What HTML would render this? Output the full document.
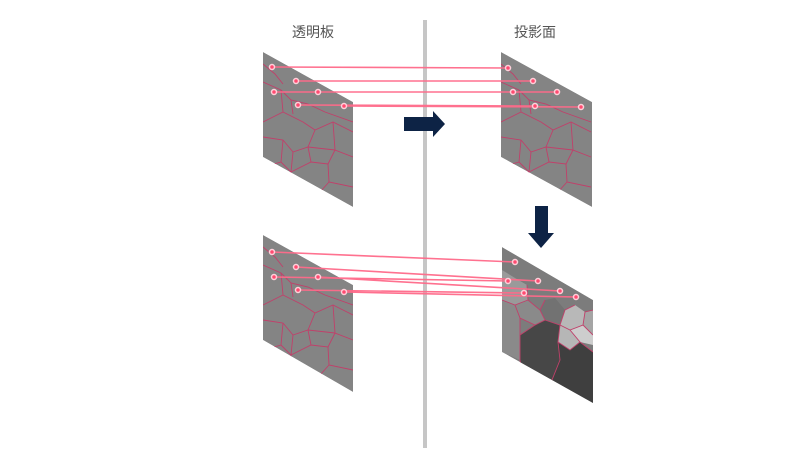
<!DOCTYPE html>
<html><head><meta charset="utf-8"><style>
html,body{margin:0;padding:0;background:#fff;width:800px;height:450px;overflow:hidden}
</style></head><body>
<svg width="800" height="450" viewBox="0 0 800 450" xmlns="http://www.w3.org/2000/svg" font-family="Liberation Sans, Noto Sans CJK JP, sans-serif">
<defs>
<clipPath id="c1"><polygon points="263,52 353,102 353,207 263,157"/></clipPath>
<clipPath id="c2"><polygon points="501,52 592,102 592,207 501,157"/></clipPath>
<clipPath id="c3"><polygon points="263,235 353,285 353,392 263,340"/></clipPath>
<clipPath id="c4"><polygon points="502,247 593,300 593,403 502,352"/></clipPath>
<g id="vor" fill="none" stroke="#c0406a" stroke-width="0.9">
<path d="M0,12 L12,22 L20,32"/>
<path d="M0,30 L18,38 L28,48 L45,52 L62,60 L90,70"/>
<path d="M18,38 L20,60 L0,70"/>
<path d="M20,60 L40,70 L52,78 L70,70 L90,80"/>
<path d="M28,48 L30,62"/>
<path d="M52,78 L45,95 L48,110"/>
<path d="M70,70 L72,98 L90,105"/>
<path d="M0,85 L20,88 L30,100 L45,95 L72,98"/>
<path d="M20,88 L18,110 L0,115"/>
<path d="M30,100 L28,120 L48,110 L65,112 L72,98"/>
<path d="M65,112 L66,130 L90,135"/>
<path d="M18,110 L28,120 L25,140 L48,150 L66,130"/>
<path d="M48,150 L48,158"/>
<path d="M25,140 L0,135"/>
</g>
</defs>
<text x="292" y="37" font-size="14" fill="#555">透明板</text>
<text x="514" y="37" font-size="14" fill="#555">投影面</text>
<rect x="423" y="20" width="4" height="428" fill="#c6c6c6"/>

<g clip-path="url(#c1)"><polygon points="263,52 353,102 353,207 263,157" fill="#848484"/><use href="#vor" transform="translate(263,52)"/></g>
<g clip-path="url(#c2)"><polygon points="501,52 592,102 592,207 501,157" fill="#848484"/><use href="#vor" transform="translate(501,52)"/></g>
<g clip-path="url(#c3)"><polygon points="263,235 353,285 353,392 263,340" fill="#848484"/><use href="#vor" transform="translate(263,235)"/></g>
<g clip-path="url(#c4)">
<polygon points="502,247 593,300 593,403 502,352" fill="#7c7c7c"/>
<polygon points="502,270 515,278 527,285 528,300 515,305 502,300" fill="#9a9a9a"/>
<polygon points="515,305 528,300 540,310 545,320 535,325 520,318" fill="#8a8a8a"/>
<polygon points="545,300 555,298 565,310 560,325 545,320 540,310" fill="#727272"/>
<polygon points="565,310 575,305 585,312 583,325 570,330 560,325" fill="#b8b8b8"/>
<polygon points="585,312 593,310 593,335 583,325" fill="#a5a5a5"/>
<polygon points="570,330 583,325 593,335 593,345 580,342" fill="#cdcdcd"/>
<polygon points="560,325 570,330 580,342 570,350 558,342" fill="#b6b6b6"/>
<polygon points="520,335 535,325 545,320 560,325 558,342 560,360 552,380 552,403 525,390 520,360" fill="#474747"/>
<polygon points="558,342 570,350 580,342 593,352 593,403 552,403 552,380 560,360" fill="#3f3f3f"/>
<polygon points="502,300 515,305 520,318 520,335 520,360 502,352" fill="#8a8a8a"/>
<g fill="none" stroke="#c0406a" stroke-width="0.9">
<path d="M502,300 L515,305 L528,300 L527,285"/>
<path d="M515,305 L520,318 L535,325 L545,320 L540,310 L528,300"/>
<path d="M540,310 L545,300"/>
<path d="M545,320 L560,325 L565,310 L575,305"/>
<path d="M560,325 L570,330 L583,325 L585,312 L593,310"/>
<path d="M583,325 L593,335"/><path d="M570,330 L580,342 L593,352"/>
<path d="M580,342 L570,350 L558,342 L560,325"/>
<path d="M520,318 L520,335 L535,325"/>
<path d="M520,335 L520,360 L525,390"/>
<path d="M558,342 L560,360 L552,380 L552,403"/>
</g></g>

<g stroke="#ff6a8a" stroke-width="1.6" fill="none" opacity="0.95">
<line x1="272" y1="67" x2="508" y2="68"/>
<line x1="296" y1="81" x2="533" y2="81"/>
<line x1="274" y1="92" x2="557" y2="92"/>
<line x1="298" y1="105" x2="535" y2="106"/>
<line x1="344" y1="106" x2="581" y2="107"/>
<line x1="272" y1="252" x2="515" y2="262"/>
<line x1="296" y1="267" x2="538" y2="281"/>
<line x1="274" y1="277" x2="508" y2="281"/>
<line x1="318" y1="277" x2="560" y2="291"/>
<line x1="298" y1="290" x2="524" y2="293"/>
<line x1="344" y1="292" x2="576" y2="297"/>
</g>
<g fill="#ff4a70" stroke="#ffd0da" stroke-width="1.5">
<circle cx="272" cy="67" r="2.5"/><circle cx="296" cy="81" r="2.5"/><circle cx="274" cy="92" r="2.5"/><circle cx="318" cy="92" r="2.5"/><circle cx="298" cy="105" r="2.5"/><circle cx="344" cy="106" r="2.5"/>
<circle cx="508" cy="68" r="2.5"/><circle cx="533" cy="81" r="2.5"/><circle cx="513" cy="92" r="2.5"/><circle cx="557" cy="92" r="2.5"/><circle cx="535" cy="106" r="2.5"/><circle cx="581" cy="107" r="2.5"/>
<circle cx="272" cy="252" r="2.5"/><circle cx="296" cy="267" r="2.5"/><circle cx="274" cy="277" r="2.5"/><circle cx="318" cy="277" r="2.5"/><circle cx="298" cy="290" r="2.5"/><circle cx="344" cy="292" r="2.5"/>
<circle cx="515" cy="262" r="2.5"/><circle cx="538" cy="281" r="2.5"/><circle cx="508" cy="281" r="2.5"/><circle cx="560" cy="291" r="2.5"/><circle cx="524" cy="293" r="2.5"/><circle cx="576" cy="297" r="2.5"/>
</g>

<polygon points="404,117 433,117 433,111 445,124 433,137 433,131 404,131" fill="#0d2345"/>
<polygon points="535,206 548,206 548,233 554,233 541,248 528,233 535,233" fill="#0d2345"/>
</svg>
</body></html>
